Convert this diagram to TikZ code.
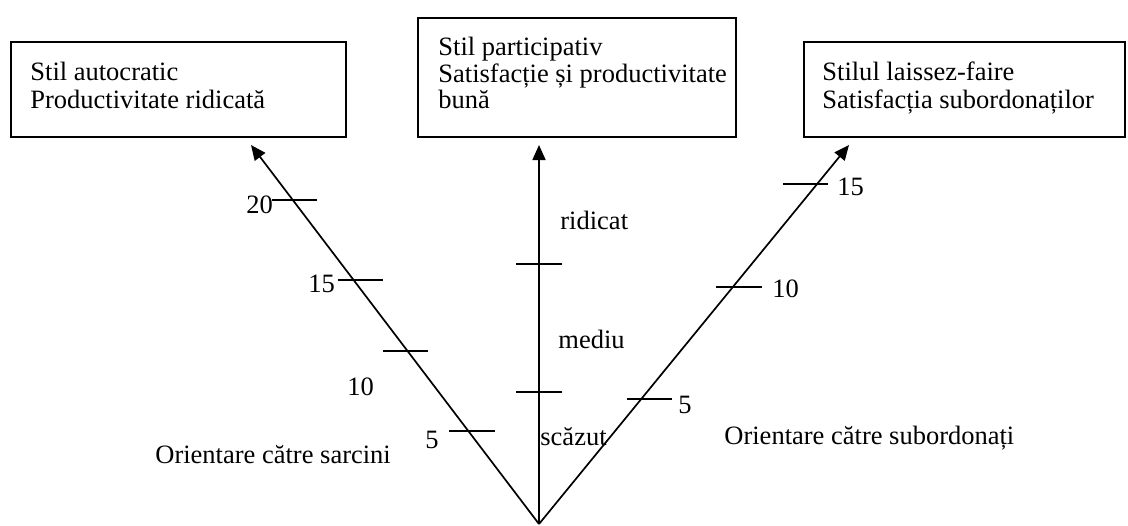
\documentclass[tikz,border=0pt]{standalone}
\usepackage{fontspec}
\setmainfont{Liberation Serif}
\usetikzlibrary{arrows.meta}
\begin{document}
\begin{tikzpicture}[x=0.5pt,y=-0.5pt,
  boxstyle/.style={draw, line width=1.1pt, anchor=north west, inner sep=0pt},
  txt/.style={anchor=base west, inner sep=0pt, font=\fontsize{13.25pt}{13.5pt}\selectfont},
  axisline/.style={line width=0.85pt, -{Triangle[length=7.5pt,width=6.5pt]}},
  tickline/.style={line width=0.85pt}]
\useasboundingbox (0,0) rectangle (1128,525);
% boxes
\node[boxstyle, minimum width=167.5pt, minimum height=47.5pt] (b1) at (10,41) {};
\node[boxstyle, minimum width=159pt, minimum height=59.5pt] (b2) at (417,17) {};
\node[boxstyle, minimum width=160.5pt, minimum height=47.5pt] (b3) at (803,41) {};
% box texts
\node[txt] (t11) at (30,80) {Stil autocratic};
\node[txt] (t12) at (30,108) {Productivitate ridicată};
\node[txt] (t21) at (438,55) {Stil participativ};
\node[txt] (t22) at (438,82) {Satisfacție și productivitate};
\node[txt] (t23) at (438,108) {bună};
\node[txt] (t31) at (822,80) {Stilul laissez-faire};
\node[txt] (t32) at (822,108) {Satisfacția subordonaților};
% axes
\coordinate (o) at (539,524);
\coordinate (tl) at (251,145);
\coordinate (tm) at (539,145);
\coordinate (tr) at (849,145);
\draw[axisline] (o) -- (tl);
\draw[axisline] (o) -- (tm);
\draw[axisline] (o) -- (tr);
% left ticks
\draw[tickline] (272,200) -- (317,200);
\draw[tickline] (338,280) -- (383,280);
\draw[tickline] (383,351) -- (428,351);
\draw[tickline] (449,431) -- (495,431);
\node[txt] (l20) at (246,213) {20};
\node[txt] (l15) at (308,292) {15};
\node[txt] (l10) at (347,395) {10};
\node[txt] (l5) at (425,448) {5};
% middle ticks
\draw[tickline] (516,264) -- (562,264);
\draw[tickline] (516,392) -- (562,392);
\node[txt] (mr) at (560,229) {ridicat};
\node[txt] (mm) at (558,348) {mediu};
\node[txt] (ms) at (540,445) {scăzut};
% right ticks
\draw[tickline] (783,184) -- (828,184);
\draw[tickline] (716,287) -- (762,287);
\draw[tickline] (627,399) -- (672,399);
\node[txt] (r15) at (837,195) {15};
\node[txt] (r10) at (772,297) {10};
\node[txt] (r5) at (678,413) {5};
% side labels
\node[txt] (os) at (155,463) {Orientare către sarcini};
\node[txt] (ob) at (724,444) {Orientare către subordonați};
\end{tikzpicture}
\end{document}
